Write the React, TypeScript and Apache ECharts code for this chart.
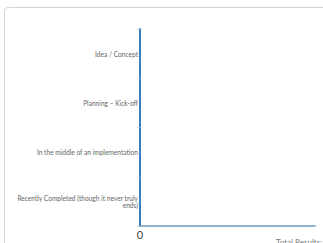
import React, { useEffect, useRef } from "react";
import * as echarts from "echarts";

const categories = [
  "Recently Completed (though it never truly ends)",
  "In the middle of an implementation",
  "Planning – Kick-off",
  "Idea / Concept",
];
const values = [0, 0, 0, 0];
const totalText = "Total Results: 0";

const FONT = "Lato, 'Noto Sans', sans-serif";

export default function App() {
  const ref = useRef<HTMLDivElement>(null);
  useEffect(() => {
    if (!ref.current) return;
    const chart = echarts.init(ref.current, undefined, { renderer: "svg" });
    chart.setOption({
      animation: false,
      textStyle: { fontFamily: FONT },
      grid: { left: 140, right: 8, top: 29, bottom: 17, containLabel: false },
      graphic: [
        {
          type: "rect",
          shape: { x: 4.5, y: 7.5, width: 340, height: 260, r: 4 },
          style: { fill: "none", stroke: "#d4d4d4", lineWidth: 1 },
          silent: true,
        },
        {
          type: "text",
          left: 276,
          top: 238,
          style: { text: totalText, fontSize: 8, fill: "#777", fontFamily: FONT },
        },
      ],
      xAxis: {
        type: "value",
        min: 0,
        max: 1,
        interval: 1,
        splitLine: { show: false },
        axisLine: { show: true, lineStyle: { color: "#6b9ac4", width: 1.5 } },
        axisTick: { show: false },
        axisLabel: {
          showMaxLabel: false,
          color: "#444",
          fontSize: 11,
          margin: 3,
          fontFamily: FONT,
        },
      },
      yAxis: {
        type: "category",
        data: categories,
        axisLine: { show: true, lineStyle: { color: "#3b7dc0", width: 2 } },
        axisTick: { show: true, length: 3, lineStyle: { color: "#b8c8d8" } },
        axisLabel: {
          color: "#666",
          fontSize: 6.6,
          margin: 2,
          width: 122,
          overflow: "break",
          lineHeight: 7,
          fontFamily: FONT,
        },
      },
      series: [
        {
          type: "bar",
          data: values,
          itemStyle: { color: "#3b7dc0" },
        },
      ],
    });
    return () => chart.dispose();
  }, []);
  return (
    <div
      ref={ref}
      style={{ position: "fixed", left: 0, top: 0, width: 323, height: 243, background: "#fff" }}
    />
  );
}
